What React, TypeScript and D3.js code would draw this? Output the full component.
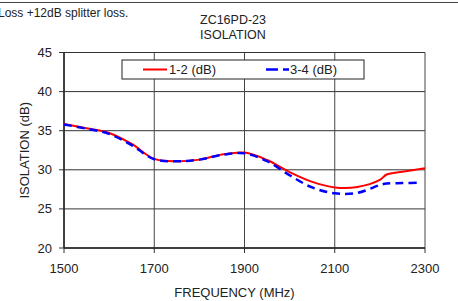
import React from 'react';
import * as d3 from 'd3';

const width = 458;
const height = 301;

const freqs = [1500, 1550, 1600, 1650, 1700, 1750, 1800, 1850, 1900, 1950, 2000, 2050, 2100, 2150, 2200, 2215, 2250, 2300];
const iso12 = [35.85, 35.3, 34.7, 33.3, 31.4, 31.1, 31.3, 31.95, 32.2, 31.25, 29.7, 28.45, 27.75, 27.8, 28.7, 29.4, 29.75, 30.2];
const freqs34 = [1500, 1550, 1600, 1650, 1700, 1750, 1800, 1850, 1900, 1950, 2000, 2050, 2100, 2150, 2200, 2215, 2250, 2292];
const iso34 = [35.8, 35.25, 34.6, 33.15, 31.35, 31.1, 31.3, 31.9, 32.1, 31.1, 29.3, 27.75, 27.0, 27.05, 28.05, 28.25, 28.3, 28.35];
const xTicks = [1500, 1700, 1900, 2100, 2300];
const yTicks = [20, 25, 30, 35, 40, 45];

const margin = { left: 64, right: 33, top: 52.5, bottom: 53 };

const App = () => {
  const x = d3.scaleLinear().domain([1500, 2300]).range([margin.left, width - margin.right]);
  const y = d3.scaleLinear().domain([20, 45]).range([height - margin.bottom, margin.top]);

  const line = d3.line<[number, number]>()
    .x(d => x(d[0]))
    .y(d => y(d[1]))
    .curve(d3.curveCatmullRom.alpha(0.5));

  const red = line(freqs.map((f, i) => [f, iso12[i]]));
  const blue = line(freqs34.map((f, i) => [f, iso34[i]]));

  const font = '"Liberation Sans", Arial, sans-serif';
  const x0 = x(1500), x1 = x(2300), yb = y(20), yt = y(45);

  return (
    <svg width={width} height={height} style={{ position: 'absolute', left: 0, top: 0, background: '#fff' }} fontFamily={font}>
      <line x1={0} x2={width} y1={2.5} y2={2.5} stroke="#444" strokeWidth={1} />
      <text x={-2} y={16.5} fontSize={12} fill="#222">Loss +12dB splitter loss.</text>
      <text x={233} y={24} fontSize={12.5} fill="#222" textAnchor="middle">ZC16PD-23</text>
      <text x={233} y={38.5} fontSize={12.5} fill="#222" textAnchor="middle">ISOLATION</text>

      {yTicks.map(t => (
        <g key={'y' + t}>
          <line x1={x0} x2={x1} y1={y(t)} y2={y(t)} stroke="#333" strokeWidth={1} />
          <line x1={x0 - 5} x2={x0} y1={y(t)} y2={y(t)} stroke="#333" />
          <text x={52} y={y(t) + 4.5} fontSize={13} fill="#222" textAnchor="end">{t}</text>
        </g>
      ))}
      {xTicks.map(t => (
        <g key={'x' + t}>
          <line x1={x(t)} x2={x(t)} y1={yt} y2={yb} stroke="#444" strokeWidth={1} />
          <line x1={x(t)} x2={x(t)} y1={yb} y2={yb + 5} stroke="#333" />
          <text x={x(t)} y={yb + 25} fontSize={13} fill="#222" textAnchor="middle">{t}</text>
        </g>
      ))}
      <line x1={x0} x2={x0} y1={yt} y2={yb} stroke="#222" strokeWidth={1.5} />
      <line x1={x0} x2={x1} y1={yb} y2={yb} stroke="#222" strokeWidth={1.5} />

      <path d={red ?? ''} fill="none" stroke="#ff0000" strokeWidth={2} />
      <path d={blue ?? ''} fill="none" stroke="#0000ff" strokeWidth={2.5} strokeDasharray="8,5" />

      <g>
        <rect x={122} y={60} width={242} height={19} fill="#fff" stroke="#222" strokeWidth={1} />
        <line x1={143} x2={167} y1={69.5} y2={69.5} stroke="#ff0000" strokeWidth={2} />
        <text x={169} y={74} fontSize={13} fill="#222">1-2 (dB)</text>
        <line x1={266} x2={289} y1={69.5} y2={69.5} stroke="#0000ff" strokeWidth={2.5} strokeDasharray="12,5" />
        <text x={290} y={74} fontSize={13} fill="#222">3-4 (dB)</text>
      </g>

      <text transform={`translate(29,${(yt + yb) / 2}) rotate(-90)`} fontSize={13} fill="#222" textAnchor="middle">ISOLATION (dB)</text>
      <text x={(x0 + x1) / 2 - 10} y={297} fontSize={13} fill="#222" textAnchor="middle">FREQUENCY (MHz)</text>
    </svg>
  );
};

export default App;
